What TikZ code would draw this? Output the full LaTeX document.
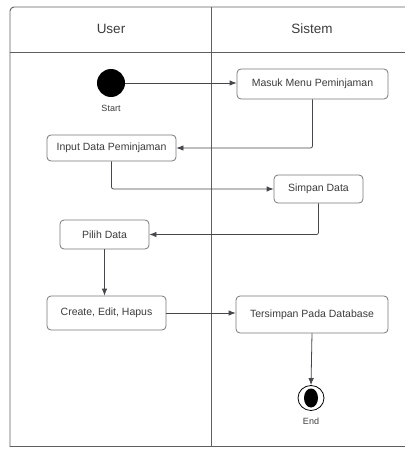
\documentclass[tikz,border=0pt]{standalone}
\usepackage{fontspec}
\setmainfont{Liberation Sans}
\usetikzlibrary{arrows.meta,shapes.geometric}
\definecolor{lanecol}{RGB}{95,95,95}
\definecolor{boxcol}{RGB}{120,120,120}
\definecolor{txtcol}{RGB}{60,60,60}
\definecolor{arrcol}{RGB}{70,70,75}
\tikzset{
  actbox/.style={draw=boxcol, line width=0.8pt, rounded corners=4pt, fill=white,
    text=txtcol, font=\fontsize{10.5}{12}\selectfont, inner sep=0pt},
  flow/.style={draw=arrcol, line width=0.8pt, rounded corners=2pt,
    -{Latex[length=7pt,width=5.5pt]}},
  lane/.style={draw=lanecol, line width=0.9pt},
  hdr/.style={text=txtcol, font=\fontsize{13.5}{15}\selectfont},
  lbl/.style={text=txtcol, font=\fontsize{9}{10}\selectfont, inner sep=0pt}
}
\begin{document}
\begin{tikzpicture}[x=1pt,y=-1pt]
\useasboundingbox (0,0) rectangle (404,449);
% swimlane frame
\draw[lane, rounded corners=4pt] (406,7) -- (10,7) -- (10,447);
\draw[lane] (10,446) -- (406,446);
\draw[lane] (10,52) -- (406,52);
\draw[lane] (211,7) -- (211,447);
\node[hdr] (huser) at (111,29) {User};
\node[hdr] (hsis) at (312,29) {Sistem};
% start
\node[circle, fill=black, minimum size=28pt, inner sep=0pt] (start) at (111,83) {};
\node[lbl] (startl) at (111,108) {Start};
% activities
\node[actbox, minimum width=151pt, minimum height=30pt] (masuk) at (312.5,84) {Masuk Menu Peminjaman};
\node[actbox, minimum width=129pt, minimum height=26pt] (input) at (111.5,148) {Input Data Peminjaman};
\node[actbox, minimum width=89pt, minimum height=28pt] (simpan) at (318.5,189) {Simpan Data};
\node[actbox, minimum width=89pt, minimum height=29pt] (pilih) at (104.5,234.5) {Pilih Data};
\node[actbox, minimum width=119pt, minimum height=34pt] (create) at (106.5,313) {Create, Edit, Hapus};
\node[actbox, minimum width=152pt, minimum height=37pt] (tersimpan) at (312,314.5) {Tersimpan Pada Database};
% end
\node[draw=black, line width=0.8pt, ellipse, minimum width=26pt, minimum height=25pt, inner sep=0pt] (end) at (311,398) {};
\fill[black] (end.center) ellipse [x radius=7, y radius=9.5];
\node[lbl] (endl) at (311,421) {End};
% flows
\draw[flow] (start) -- (masuk.west |- start);
\draw[flow] (masuk.south) |- (input.east);
\draw[flow] (input.south) |- (simpan.west);
\draw[flow] (simpan.south) |- (pilih.east);
\draw[flow] (pilih.south) -- (pilih.south |- create.north);
\draw[flow] (create.east) -- (tersimpan.west |- create.east);
\draw[flow] (tersimpan.south) -- (end.north);
\end{tikzpicture}
\end{document}
